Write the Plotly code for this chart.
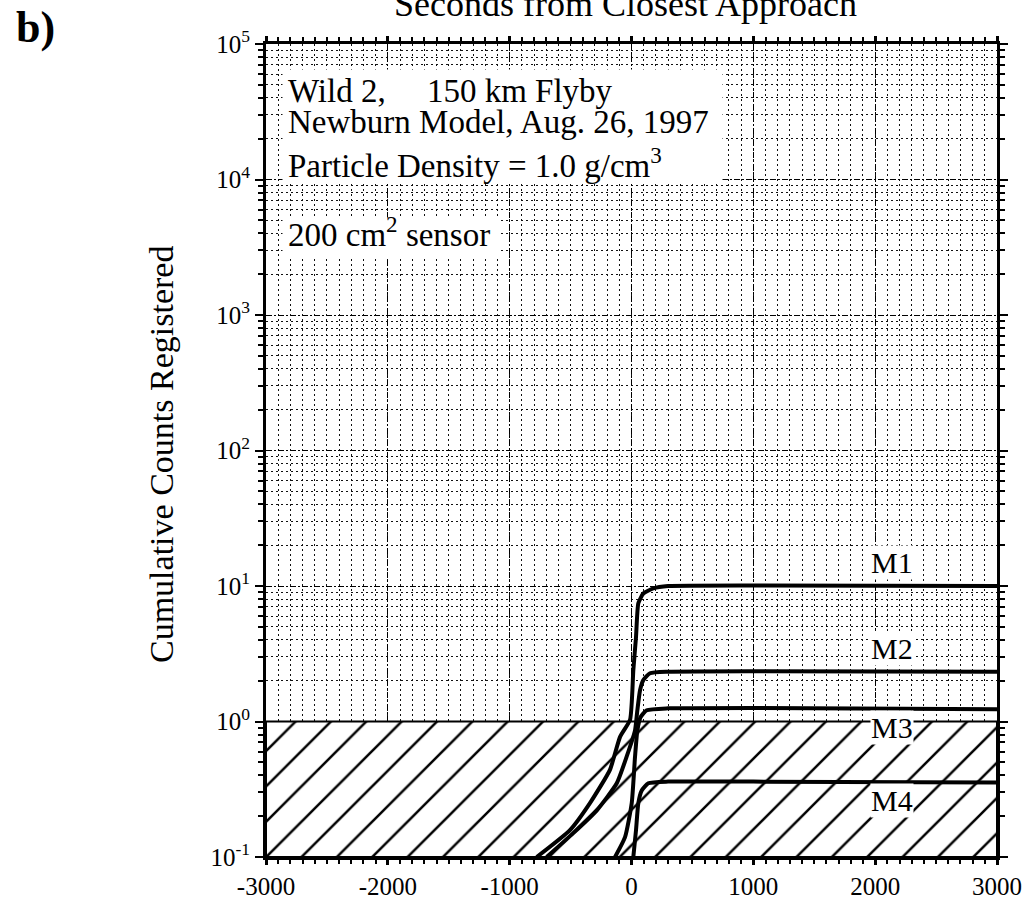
import math
import plotly.graph_objects as go

# ---------------- data ----------------
x_ticks = [-3000, -2000, -1000, 0, 1000, 2000, 3000]
x_tick_text = ["-3000", "-2000", "-1000", "0", "1000", "2000", "3000"]
y_ticks = [0.1, 1, 10, 100, 1000, 10000, 100000]
y_tick_text = ["10<sup>-1</sup>", "10<sup>0</sup>", "10<sup>1</sup>", "10<sup>2</sup>",
               "10<sup>3</sup>", "10<sup>4</sup>", "10<sup>5</sup>"]

# detection threshold region (hatched): counts below 1
region_t = [-3000, 3000, 3000, -3000, -3000]
region_c = [0.1, 0.1, 1.0, 1.0, 0.1]

m1_t = [-778, -505, -341, -177, -94, -12, 15, 37, 56, 97, 179, 300, 1000, 3000]
m1_c = [0.1, 0.158, 0.25, 0.44, 0.77, 1.03, 2.4, 4.2, 7.45, 8.8, 9.6, 10.0, 10.1, 10.0]

m2_t = [-696, -478, -286, -121, -40, 29, 48, 70, 97, 152, 300, 1000, 3000]
m2_c = [0.1, 0.15, 0.22, 0.35, 0.55, 0.86, 1.21, 1.7, 2.02, 2.27, 2.33, 2.35, 2.33]

m3_t = [-135, -53, 2, 29, 48, 75, 125, 300, 1000, 3000]
m3_c = [0.1, 0.14, 0.25, 0.55, 0.86, 1.08, 1.21, 1.25, 1.26, 1.23]

m4_t = [15, 37, 56, 84, 138, 300, 1000, 3000]
m4_c = [0.1, 0.158, 0.25, 0.31, 0.35, 0.36, 0.36, 0.355]

labels = ["M1", "M2", "M3", "M4"]
label_t = [2140, 2140, 2140, 2140]
label_c = [14.8, 3.43, 0.9, 0.263]

# ---------------- figure ----------------
FONT = "Liberation Serif, Times New Roman, serif"
W, H = 1034, 902
L, R, T, B = 266, 37, 44, 45
PW, PH = W - L - R, H - T - B


def px(x):
    return (x - L) / PW


def py(y):
    return (H - B - y) / PH


fig = go.Figure()

fig.add_trace(go.Scatter(
    x=region_t, y=region_c, mode="lines", fill="toself",
    fillcolor="white",
    fillpattern=dict(shape="/", size=25, solidity=0.1, fgcolor="black",
                     bgcolor="white", fgopacity=1),
    line=dict(color="black", width=2), hoverinfo="skip", showlegend=False))

for t, c in [(m1_t, m1_c), (m2_t, m2_c), (m3_t, m3_c), (m4_t, m4_c)]:
    fig.add_trace(go.Scatter(x=t, y=c, mode="lines",
                             line=dict(color="black", width=4, shape="spline", smoothing=0.5),
                             showlegend=False))

minor_y = [k * 10.0 ** n for n in range(-1, 5) for k in range(2, 10)]

fig.update_xaxes(
    range=[-3000, 3000], tickvals=x_ticks, ticktext=x_tick_text, automargin=False,
    ticks="outside", ticklen=5, tickwidth=2.5, tickcolor="black",
    showline=True, linewidth=3, linecolor="black", mirror="ticks",
    showgrid=True, gridcolor="#000", gridwidth=1, griddash="6px,2px,2px,2px",
    zeroline=False, tickfont=dict(family=FONT, size=25, color="black"),
    minor=dict(dtick=100, tick0=0, ticks="outside", ticklen=4, tickwidth=1.5,
               tickcolor="black", showgrid=True, gridcolor="#111", gridwidth=1,
               griddash="2px,3px"),
)
fig.update_yaxes(
    type="log", range=[-1, 5], tickvals=y_ticks, ticktext=y_tick_text, automargin=False,
    ticks="outside", ticklen=8, tickwidth=2, tickcolor="black",
    showline=True, linewidth=3, linecolor="black", mirror="ticks",
    showgrid=True, gridcolor="#000", gridwidth=1, griddash="6px,2px,2px,2px",
    zeroline=False, tickfont=dict(family=FONT, size=25, color="black"),
    minor=dict(tickvals=minor_y, ticks="outside", ticklen=5, tickwidth=1.5,
               tickcolor="black", showgrid=True, gridcolor="#111", gridwidth=1,
               griddash="2px,3px"),
)

ann = []
# white text panels
ann.append(dict(xref="paper", yref="paper", x=px(502.5), y=py(126.5), text=" ",
                width=439, height=113, bgcolor="white", borderpad=0, showarrow=False,
                xanchor="center", yanchor="middle"))
ann.append(dict(xref="paper", yref="paper", x=px(390.5), y=py(238), text=" ",
                width=215, height=40, bgcolor="white", borderpad=0, showarrow=False,
                xanchor="center", yanchor="middle"))
info_lines = [
    ("Wild 2,\u00a0\u00a0\u00a0\u00a0\u00a0150 km Flyby", 91),
    ("Newburn Model, Aug. 26, 1997", 122),
    ("Particle Density = 1.0 g/cm<sup>3</sup>", 163),
    ("200 cm<sup>2</sup> sensor", 232),
]
for txt, yc in info_lines:
    ann.append(dict(xref="paper", yref="paper", x=px(287), y=py(yc), text=txt,
                    showarrow=False, xanchor="left", yanchor="middle",
                    borderpad=0,
                    font=dict(family=FONT, size=33, color="black")))

for lab, t, c in zip(labels, label_t, label_c):
    ann.append(dict(xref="x", yref="y", x=t, y=math.log10(c), text=lab, showarrow=False,
                    bgcolor="white", borderpad=0, xanchor="center", yanchor="middle",
                    font=dict(family=FONT, size=30, color="black")))

# axis titles
ann.append(dict(xref="paper", yref="paper", x=px(161), y=py(455),
                text="Cumulative Counts Registered", textangle=-90, showarrow=False,
                xanchor="center", yanchor="middle",
                font=dict(family=FONT, size=34, color="black")))
ann.append(dict(xref="paper", yref="paper", x=px(625), y=py(4),
                text="Seconds from Closest Approach", showarrow=False,
                xanchor="center", yanchor="middle",
                font=dict(family=FONT, size=36, color="black")))
ann.append(dict(xref="paper", yref="paper", x=px(36), y=py(27),
                text="<b>b)</b>", showarrow=False, xanchor="center", yanchor="middle",
                font=dict(family=FONT, size=44, color="black")))

fig.update_layout(
    width=W, height=H, autosize=False,
    margin=dict(l=L, r=R, t=T, b=B, pad=0, autoexpand=False),
    paper_bgcolor="white", plot_bgcolor="white",
    annotations=ann, showlegend=False,
    font=dict(family=FONT, color="black"),
)

fig.write_html("out.html")
